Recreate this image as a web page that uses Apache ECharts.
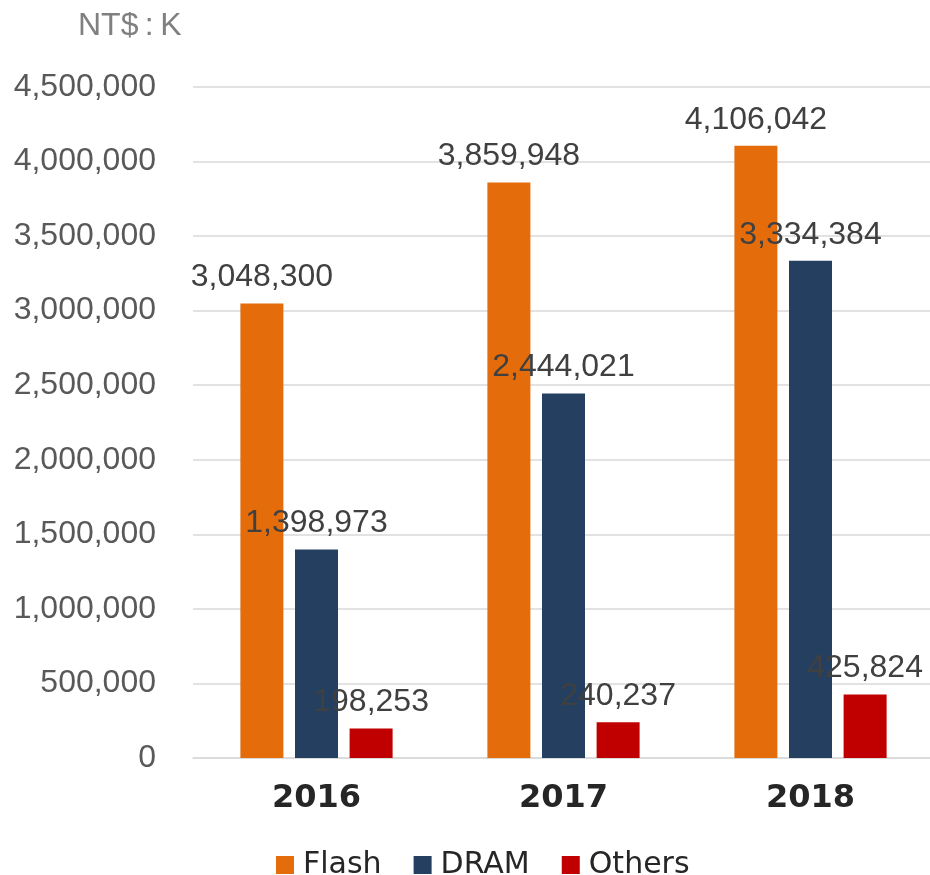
<!DOCTYPE html>
<html>
<head>
<meta charset="utf-8">
<script src="https://cdn.jsdelivr.net/npm/echarts@6/dist/echarts.min.js"></script>
<style>
  html, body { margin: 0; padding: 0; background: #fff; }
  #chart { width: 930px; height: 875px; }
</style>
</head>
<body>
<div id="chart"></div>
<script>
var years = ['2016', '2017', '2018'];
var flash = [3048300, 3859948, 4106042];
var dram = [1398973, 2444021, 3334384];
var others = [198253, 240237, 425824];

function fmt(v) {
  return String(v).replace(/\B(?=(\d{3})+(?!\d))/g, ',');
}

var chart = echarts.init(document.getElementById('chart'));

var labelStyle = {
  show: true,
  position: 'top',
  distance: 10,
  fontFamily: 'Liberation Sans',
  fontSize: 32,
  color: '#404040',
  formatter: function (p) { return fmt(p.value); }
};

// 三个系列共用的柱子样式
function barSeries(name, data, color) {
  return {
    name: name,
    type: 'bar',
    data: data,
    barWidth: 43,
    barGap: '27%',
    itemStyle: { color: color },
    label: labelStyle
  };
}

chart.setOption({
  animation: false,
  title: {
    text: 'NT$\u2009:\u2009K',
    left: 73,
    top: 5,
    textStyle: {
      fontFamily: 'Liberation Sans',
      fontSize: 32,
      fontWeight: 'normal',
      color: '#808080'
    }
  },
  legend: {
    left: 271,
    top: 845,
    itemWidth: 18,
    itemHeight: 18,
    itemGap: 32,
    icon: 'rect',
    textStyle: {
      fontFamily: 'DejaVu Sans',
      fontSize: 30,
      color: '#262626',
      padding: [0, 0, 0, 4]
    },
    data: ['Flash', 'DRAM', 'Others']
  },
  grid: {
    left: 193,
    top: 87,
    width: 741,
    height: 671,
    outerBoundsMode: 'none'
  },
  xAxis: {
    type: 'category',
    data: years,
    axisLine: { lineStyle: { color: '#d9d9d9', width: 1.5 } },
    axisTick: { show: false },
    axisLabel: {
      margin: 25,
      fontFamily: 'DejaVu Sans',
      fontWeight: 'bold',
      fontSize: 32,
      color: '#262626'
    }
  },
  yAxis: {
    type: 'value',
    min: 0,
    max: 4500000,
    interval: 500000,
    axisLine: { show: false },
    axisTick: { show: false },
    splitLine: { lineStyle: { color: '#d9d9d9', width: 1.5 } },
    axisLabel: {
      margin: 37,
      fontFamily: 'Liberation Sans',
      fontSize: 32,
      color: '#595959',
      formatter: function (v) { return fmt(v); }
    }
  },
  series: [
    barSeries('Flash', flash, '#e46c0a'),
    barSeries('DRAM', dram, '#243f60'),
    barSeries('Others', others, '#c00000')
  ]
});
</script>
</body>
</html>
